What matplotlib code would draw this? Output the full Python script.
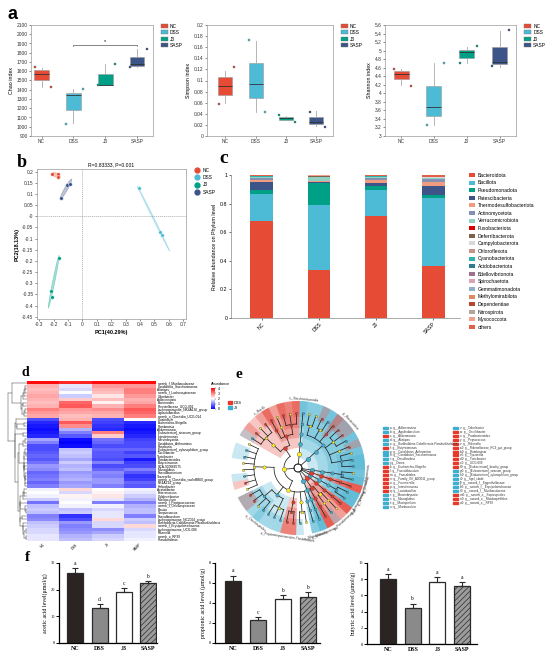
import numpy as np
import matplotlib
matplotlib.use("Agg")
import matplotlib.pyplot as plt
from matplotlib.patches import Patch, Ellipse, Wedge, Rectangle
from matplotlib.lines import Line2D
from matplotlib.colors import LinearSegmentedColormap

W, H = 550, 657
SANS = ["Liberation Sans", "DejaVu Sans"]
SERIF = ["Liberation Serif", "DejaVu Serif"]
plt.rcParams["font.family"] = SANS
plt.rcParams["hatch.linewidth"] = 0.5

groups = ["NC", "DSS", "J3", "SASP"]
group_colors = ["#E64B35", "#4DBBD5", "#00A087", "#3C5488"]

# ---- a: alpha diversity (box stats) ----
chao_q1 = [1510, 1185, 1450, 1655]
chao_med = [1575, 1340, 1455, 1680]
chao_q3 = [1615, 1370, 1565, 1750]
chao_lo = [1430, 1040, 1450, 1650]
chao_hi = [1640, 1405, 1680, 1840]
chao_pts = [[1650, 1435], [1035, 1410], [1450, 1680], [1645, 1840]]

simpson_q1 = [0.073, 0.068, 0.028, 0.021]
simpson_med = [0.090, 0.093, 0.032, 0.026]
simpson_q3 = [0.106, 0.132, 0.035, 0.034]
simpson_lo = [0.060, 0.044, 0.028, 0.018]
simpson_hi = [0.118, 0.172, 0.036, 0.045]
simpson_pts = [[0.057, 0.125], [0.173, 0.044], [0.037, 0.026], [0.044, 0.016]]

shannon_q1 = [4.33, 3.47, 4.83, 4.68]
shannon_med = [4.45, 3.69, 4.96, 4.74]
shannon_q3 = [4.52, 4.18, 5.01, 5.09]
shannon_lo = [4.19, 3.26, 4.72, 4.62]
shannon_hi = [4.57, 4.70, 5.08, 5.47]
shannon_pts = [[4.57, 4.18], [3.26, 4.70], [4.72, 5.10], [4.63, 5.48]]

# ---- b: PCoA ----
pc1 = {"NC": [-0.21, -0.17, -0.17], "DSS": [0.39, 0.535, 0.555],
       "J3": [-0.165, -0.22, -0.215], "SASP": [-0.15, -0.11, -0.085]}
pc2 = {"NC": [0.19, 0.19, 0.175], "DSS": [0.125, -0.07, -0.085],
       "J3": [-0.185, -0.335, -0.36], "SASP": [0.08, 0.14, 0.145]}

# ---- c: phylum composition ----
phyla = ["Bacteroidota", "Bacillota", "Pseudomonadota", "Patescibacteria",
         "Thermodesulfobacteriota", "Actinomycetota", "Verrucomicrobiota",
         "Fusobacteriota", "Deferribacterota", "Campylobacterota", "Chloroflexota",
         "Cyanobacteriota", "Acidobacteriota", "Bdellovibrionota", "Spirochaetota",
         "Gemmatimonadota", "Methylomirabilota", "Dependentiae", "Nitrospirota",
         "Myxococcota", "others"]
phyla_colors = ["#E64B35", "#4DBBD5", "#00A087", "#3C5488", "#F39B7F", "#8491B4",
                "#91D1C2", "#DC0000", "#7E6148", "#D9D9D9", "#C7948C", "#2FB3AE",
                "#2E7D8C", "#A0708F", "#D9A5B3", "#8FB2C9", "#E08A60", "#B5472E",
                "#B3A69A", "#F2A08E", "#E2604A"]
abund_nc = [0.678, 0.192, 0.027, 0.053, 0.012, 0.018, 0.004, 0.001, 0.002, 0.001,
            0.001, 0.001, 0.001, 0.0005, 0.0005, 0.0005, 0.0005, 0.0005, 0.0005,
            0.0005, 0.0055]
abund_dss = [0.337, 0.453, 0.155, 0.006, 0.004, 0.004, 0.028, 0.001, 0.003, 0.001,
             0.0005, 0.0005, 0.0005, 0.0005, 0.0005, 0.0005, 0.0005, 0.0005, 0.0005,
             0.0005, 0.003]
abund_j3 = [0.712, 0.183, 0.028, 0.018, 0.027, 0.012, 0.004, 0.001, 0.003, 0.001,
            0.0005, 0.0005, 0.0005, 0.0005, 0.0005, 0.0005, 0.0005, 0.0005, 0.0005,
            0.0005, 0.006]
abund_sasp = [0.365, 0.475, 0.022, 0.063, 0.027, 0.022, 0.005, 0.001, 0.002, 0.001,
              0.0005, 0.0005, 0.0005, 0.0005, 0.0005, 0.0005, 0.0005, 0.0005, 0.0005,
              0.0005, 0.012]

# ---- d: genus heatmap ----
genera = ["norank_f_Muribaculaceae", "Candidatus_Saccharimonas", "Alistipes",
          "norank_f_Lachnospiraceae", "Odoribacter", "Adlercreutzia", "Bacteroides",
          "Prevotellaceae_UCG-001", "Lachnospiraceae_NK4A136_group", "Ligilactobacillus",
          "norank_o_Clostridia_UCG-014", "Clostridium", "Escherichia-Shigella",
          "Romboutsia", "Akkermansia", "[Eubacterium]_siraeum_group", "Intestinimonas",
          "Marvinbryantia", "Candidatus_Arthromitus", "Roseburia",
          "[Eubacterium]_xylanophilum_group", "Oscillibacter", "Turicibacter",
          "Parabacteroides", "Butyricimonas", "GCA-900066575", "Monoglobus",
          "Faecalibacterium", "Tuzzerella", "norank_o_Clostridia_vadinBB60_group",
          "NK4A214_group", "Helicobacter", "Acetatifactor", "Enterococcus",
          "Colidextribacter", "Muribaculum", "norank_f_Peptococcaceae",
          "norank_f_Oscillospiraceae", "Blautia", "Streptococcus", "Faecalibaculum",
          "Lachnospiraceae_NC2004_group", "Burkholderia-Caballeronia-Paraburkholderia",
          "norank_f_Erysipelotrichaceae", "Lachnospiraceae_UCG-006", "Rikenella",
          "norank_o_RF39", "Pseudomonas"]
heat_nc = [3.9, 2.6, 2.5, 2.6, 2.7, 2.6, 2.5, 2.6, 3.0, 2.8, 2.7, 0.6, 0.3, 0.2, 0.1, 0.2,
           0.3, 1.3, 1.0, 0.6, 0.6, 0.7, 0.8, 0.7, 0.9, 1.2, 1.1, 0.8, 0.9, 1.0, 0.8, 1.0,
           1.9, 2.0, 1.9, 1.6, 0.9, 1.5, 1.6, 1.5, 1.0, 1.1, 1.5, 1.6, 1.7, 1.7, 1.8, 1.8]
heat_dss = [3.7, 1.8, 1.7, 2.0, 1.6, 2.4, 3.2, 3.3, 2.8, 2.7, 2.5, 2.6, 3.3, 2.9, 1.4, 1.0,
            0.7, 0.1, 0.0, 0.1, 1.5, 1.6, 1.5, 1.3, 1.6, 1.4, 1.5, 1.2, 1.3, 1.4, 1.2, 1.3,
            2.3, 1.7, 2.1, 1.9, 2.0, 1.9, 1.5, 1.6, 0.4, 0.6, 1.2, 1.0, 1.1, 1.2, 1.4, 1.5]
heat_j3 = [3.9, 2.8, 2.6, 2.5, 2.2, 2.5, 2.1, 2.6, 2.9, 2.7, 2.6, 0.6, 0.5, 0.4, 0.3, 3.0,
           2.4, 0.9, 0.8, 0.6, 0.8, 0.7, 0.7, 0.6, 1.0, 0.6, 0.8, 1.1, 1.0, 1.2, 1.2, 1.0,
           2.0, 2.1, 2.2, 1.8, 1.0, 1.9, 1.7, 1.8, 1.8, 2.3, 1.7, 1.7, 1.1, 1.3, 1.6, 1.7]
heat_sasp = [3.9, 2.8, 3.0, 3.0, 2.8, 2.6, 2.7, 3.0, 3.3, 3.2, 3.0, 2.0, 0.3, 0.2, 0.1, 0.2,
             0.3, 0.5, 0.6, 0.6, 0.8, 0.5, 0.7, 0.2, 0.5, 0.6, 1.0, 0.7, 0.4, 0.5, 0.8, 0.7,
             1.9, 1.8, 1.6, 1.4, 1.0, 1.4, 1.5, 1.5, 1.0, 1.6, 1.5, 2.3, 1.7, 1.8, 1.8, 1.9]

# ---- e: LEfSe cladogram (name, enriched group, children) ----
clade_tree = [
    ("p__Desulfobacterota", "J3", [("c__Desulfovibrionia", "J3", [("o__Desulfovibrionales", "J3", [
        ("f__Desulfovibrionaceae", "J3", [("g__Desulfovibrio", "J3"), ("g__Bilophila", None)])])])]),
    ("p__Bacteroidota", "J3", [("c__Bacteroidia", "J3", [("o__Bacteroidales", "J3", [
        ("f__Muribaculaceae", "J3", [("g__norank_f__Muribaculaceae", "J3"), ("g__Muribaculum", "J3"),
                                     ("g__Duncaniella", None)]),
        ("f__Bacteroidaceae", None, [("g__Bacteroides", "DSS")]),
        ("f__Rikenellaceae", None, [("g__Alistipes", "J3"), ("g__Rikenella", "DSS"),
                                    ("g__Rikenellaceae_RC9_gut_group", "DSS")]),
        ("f__Tannerellaceae", "DSS", [("g__Parabacteroides", "DSS")]),
        ("f__Marinifilaceae", None, [("g__Odoribacter", "J3"), ("g__Butyricimonas", "DSS")]),
        ("f__Prevotellaceae", None, [("g__Prevotellaceae_UCG-001", None), ("g__Alloprevotella", None)])])])]),
    ("p__Patescibacteria", None, [("c__Saccharimonadia", "J3", [("o__Saccharimonadales", "J3", [
        ("f__Saccharimonadaceae", "J3", [("g__Candidatus_Saccharimonas", "J3")])])])]),
    ("p__Bacillota", None, [
        ("c__Bacilli", "DSS", [
            ("o__Lactobacillales", "DSS", [
                ("f__Lactobacillaceae", "DSS", [("g__Lactobacillus", "DSS"), ("g__Ligilactobacillus", None),
                                                ("g__Limosilactobacillus", "DSS")]),
                ("f__Streptococcaceae", None, [("g__Streptococcus", None)]),
                ("f__Enterococcaceae", "DSS", [("g__Enterococcus", "DSS")])]),
            ("o__Erysipelotrichales", None, [
                ("f__Erysipelotrichaceae", None, [("g__Faecalibaculum", "DSS"), ("g__Dubosiella", None),
                                                  ("g__Turicibacter", "DSS"),
                                                  ("g__norank_f__Erysipelotrichaceae", "J3")])])]),
        ("c__Clostridia", None, [
            ("o__Lachnospirales", None, [
                ("f__Lachnospiraceae", None, [("g__Lachnospiraceae_NK4A136_group", None), ("g__Dorea", "J3"),
                                              ("g__Marvinbryantia", "J3"), ("g__Blautia", None),
                                              ("g__Roseburia", None),
                                              ("g__[Eubacterium]_xylanophilum_group", "J3"),
                                              ("g__Tyzzerella", "DSS"), ("g__Lachnoclostridium", None)])]),
            ("o__Oscillospirales", "J3", [
                ("f__Oscillospiraceae", "J3", [("g__Oscillibacter", "DSS"), ("g__Intestinimonas", "DSS"),
                                               ("g__Colidextribacter", None),
                                               ("g__norank_f__Oscillospiraceae", "J3")]),
                ("f__Ruminococcaceae", None, [("g__Agathobaculum", "J3"), ("g__Fournierella", "J3"),
                                              ("g__[Eubacterium]_siraeum_group", "J3")])]),
            ("o__Peptostreptococcales-Tissierellales", "DSS", [
                ("f__Peptostreptococcaceae", "DSS", [("g__Romboutsia", "DSS"),
                                                     ("g__Family_XIII_AD3011_group", "DSS")])]),
            ("o__Clostridiales", None, [
                ("f__Clostridiaceae", None, [("g__Candidatus_Arthromitus", "J3"),
                                             ("g__Clostridium_sensu_stricto_1", None)])]),
            ("o__Monoglobales", "J3", [("f__Monoglobaceae", "J3", [("g__Monoglobus", "J3")])])])]),
    ("p__Deferribacterota", "J3", [("c__Deferribacteres", "J3", [("o__Deferribacterales", "J3", [
        ("f__Deferribacteraceae", "J3", [("g__Mucispirillum", "J3")])])])]),
    ("p__Pseudomonadota", "DSS", [
        ("c__Gammaproteobacteria", "DSS", [
            ("o__Enterobacterales", "DSS", [("f__Enterobacteriaceae", "DSS", [("g__Escherichia-Shigella", "DSS")])]),
            ("o__Burkholderiales", None, [
                ("f__Burkholderiaceae", None, [("g__Burkholderia-Caballeronia-Paraburkholderia", "J3")]),
                ("f__Sutterellaceae", None, [("g__Parasutterella", None)])])]),
        ("c__Alphaproteobacteria", "DSS", [("o__Rhodospirillales", "DSS", [
            ("f__norank_o__Rhodospirillales", "DSS", [("g__norank_o__Rhodospirillales", "DSS")])])])]),
    ("p__Actinomycetota", "J3", [("c__Coriobacteriia", "J3", [("o__Coriobacteriales", "J3", [
        ("f__Eggerthellaceae", "J3", [("g__Adlercreutzia", "J3"), ("g__norank_f__Eggerthellaceae", "J3")])])])]),
    ("p__Verrucomicrobiota", "DSS", [("c__Verrucomicrobiae", "DSS", [("o__Verrucomicrobiales", "DSS", [
        ("f__Akkermansiaceae", "DSS", [("g__Akkermansia", "DSS")])])])]),
]
lefse_names = ["a: g__Adlercreutzia", "b: g__Agathobaculum", "c: g__Akkermansia", "d: g__Alistipes",
               "e: g__Burkholderia-Caballeronia-Paraburkholderia", "f: g__Butyricimonas",
               "g: g__Candidatus_Arthromitus", "h: g__Candidatus_Saccharimonas", "i: g__Desulfovibrio",
               "j: g__Dorea", "k: g__Escherichia-Shigella", "l: g__Faecalibaculum",
               "m: g__Faecalitalea", "n: g__Family_XIII_AD3011_group", "o: g__Fournierella",
               "p: g__Intestinimonas", "q: g__Lactobacillus", "r: g__Marvinbryantia",
               "s: g__Monoglobus", "t: g__Mucispirillum", "u: g__Muribaculum",
               "v: g__Odoribacter", "w: g__Oscillibacter", "x: g__Parabacteroides",
               "y: g__Peptococcus", "z: g__Rikenella", "a0: g__Rikenellaceae_RC9_gut_group",
               "b0: g__Romboutsia", "c0: g__Tyzzerella", "d0: g__Turicibacter", "e0: g__UCG-009",
               "f0: g__[Eubacterium]_brachy_group", "g0: g__[Eubacterium]_siraeum_group",
               "h0: g__[Eubacterium]_xylanophilum_group", "i0: g__hgcI_clade",
               "j0: g__norank_f__Eggerthellaceae", "k0: g__norank_f__Erysipelotrichaceae",
               "l0: g__norank_f__Muribaculaceae", "m0: g__norank_o__Saprospirales",
               "n0: g__norank_o__Rhodospirillales", "o0: g__norank_o__RF39"]
lefse_groups = ["J3", "J3", "DSS", "J3", "J3", "DSS", "J3", "J3", "J3", "J3", "DSS", "DSS", "DSS",
                "DSS", "DSS", "DSS", "DSS", "J3", "J3", "J3", "J3",
                "J3", "DSS", "DSS", "DSS", "DSS", "DSS", "DSS", "DSS", "DSS", "DSS", "DSS",
                "J3", "J3", "J3", "J3", "J3", "J3", "DSS", "DSS", "DSS"]
lefse_colors = {"DSS": "#E5392C", "J3": "#3FAFD0"}

# ---- f: short chain fatty acids ----
acetic_mean = [26.3, 13.3, 19.3, 22.6]
acetic_err = [2.0, 1.3, 1.5, 0.8]
acetic_sig = ["a", "d", "c", "b"]
propionic_mean = [6.2, 2.35, 4.45, 4.6]
propionic_err = [0.55, 0.3, 0.4, 0.5]
propionic_sig = ["a", "c", "b", "b"]
butyric_mean = [8.0, 4.4, 7.7, 7.1]
butyric_err = [0.7, 0.6, 0.55, 0.5]
butyric_sig = ["a", "b", "a", "a"]


def px(l, t, r, b):
    return [l / W, 1 - b / H, (r - l) / W, (b - t) / H]


def thin_frame(ax):
    for sp in ax.spines.values():
        sp.set_color("#9a9a9a")
        sp.set_linewidth(0.5)
    ax.tick_params(labelsize=3.5, length=1.5, width=0.4, pad=1, colors="#333333")


def alpha_box(ax, q1, med, q3, lo, hi, pts, ylim, step, ylabel, fmt, xlim):
    stats = [dict(q1=q1[i], med=med[i], q3=q3[i], whislo=lo[i], whishi=hi[i]) for i in range(4)]
    art = ax.bxp(stats, positions=range(4), widths=0.46, patch_artist=True, showfliers=False,
                 showcaps=False, medianprops=dict(color="#333333", lw=0.6),
                 whiskerprops=dict(color="#aaaaaa", lw=0.6),
                 boxprops=dict(edgecolor="#999999", lw=0.4))
    for patch, c in zip(art["boxes"], group_colors):
        patch.set_facecolor(c)
    for i, vals in enumerate(pts):
        ax.scatter([i - 0.22, i + 0.3], vals, s=2.5, marker="s", color=group_colors[i],
                   edgecolor="#555555", linewidth=0.2, zorder=4)
    ax.set_xlim(*xlim)
    ax.set_ylim(*ylim)
    ax.set_yticks(np.arange(ylim[0], ylim[1] + step / 2, step))
    ax.set_yticklabels([fmt(v) for v in np.arange(ylim[0], ylim[1] + step / 2, step)])
    ax.set_xticks(range(4))
    ax.set_xticklabels(groups)
    ax.set_ylabel(ylabel, fontsize=3.8, labelpad=2)
    thin_frame(ax)
    hd = [Patch(facecolor=c, edgecolor="#777777", lw=0.3, label=g) for g, c in zip(groups, group_colors)]
    ax.legend(handles=hd, loc="upper left", bbox_to_anchor=(1.05, 1.03), fontsize=3.5, frameon=False,
              handlelength=1.4, handleheight=0.9, labelspacing=0.3, handletextpad=0.4, borderaxespad=0)


def chain_linkage(mat):
    # merge neighbouring rows only, so the leaf order stays as in the heatmap
    nodes = [(i + 0.5, 0.0, mat[i].astype(float), 1) for i in range(len(mat))]
    segs = []
    while len(nodes) > 1:
        d = [np.linalg.norm(nodes[k][2] - nodes[k + 1][2]) for k in range(len(nodes) - 1)]
        k = int(np.argmin(d))
        (pa, ha, ca, na), (pb, hb, cb, nb) = nodes[k], nodes[k + 1]
        h = max(d[k], ha, hb)
        segs += [((ha, h), (pa, pa)), ((hb, h), (pb, pb)), ((h, h), (pa, pb))]
        nodes[k:k + 2] = [((pa + pb) / 2, h, (ca * na + cb * nb) / (na + nb), na + nb)]
    return segs


def count_leaves(node):
    if len(node) == 2:
        return 1
    return sum(count_leaves(k) for k in node[2])


def place(node, level, state, out, parent_grp):
    if len(node) == 2:
        ang = state["start"] + state["i"] * state["step"]
        state["i"] += 1
        info = dict(name=node[0], grp=node[1], level=level, ang=ang, lo=ang, hi=ang, kids=[],
                    top=node[1] is not None and parent_grp is None)
    else:
        kids = [place(k, level + 1, state, out, node[1]) for k in node[2]]
        info = dict(name=node[0], grp=node[1], level=level,
                    ang=np.mean([k["ang"] for k in kids]),
                    lo=min(k["lo"] for k in kids), hi=max(k["hi"] for k in kids),
                    kids=kids, top=node[1] is not None and parent_grp is None)
    out.append(info)
    return info


def draw_scfa(ax, mean, err, sig, ymax, step, ylabel, xlim):
    x = np.arange(4)
    bars = ax.bar(x, mean, width=0.66, color=["#2b2422", "#8a8a8a", "white", "#9c9c9c"],
                  edgecolor="#2b2b2b", linewidth=0.9, zorder=2)
    bars[3].set_hatch("//////")
    ax.errorbar(x, mean, yerr=[np.zeros(4), err], fmt="none", ecolor="#2b2b2b", elinewidth=0.8,
                capsize=2.2, capthick=0.8, zorder=3)
    for xi, m, e, s in zip(x, mean, err, sig):
        ax.text(xi, m + e + ymax * 0.025, s, ha="center", va="bottom", fontsize=4, family=SERIF)
    ax.set_ylim(0, ymax)
    ax.set_xlim(*xlim)
    ax.set_yticks(np.arange(0, ymax + step / 2, step))
    ax.set_xticks(x)
    ax.set_xticklabels(groups, fontsize=4.3, fontweight="bold", family=SERIF)
    for lab in ax.get_yticklabels():
        lab.set_family(SERIF)
    ax.tick_params(axis="y", labelsize=3.2, length=2, width=0.7, pad=1)
    ax.tick_params(axis="x", length=0, pad=2)
    for sp in ["top", "right"]:
        ax.spines[sp].set_visible(False)
    for sp in ["left", "bottom"]:
        ax.spines[sp].set_linewidth(0.9)
    ax.set_ylabel(ylabel, fontsize=4.2, family=SERIF, labelpad=2)


def main():
    fig = plt.figure(figsize=(W / 100, H / 100), dpi=100)

    # ---------------- a ----------------
    ax = fig.add_axes(px(31, 25, 153, 136))
    alpha_box(ax, chao_q1, chao_med, chao_q3, chao_lo, chao_hi, chao_pts, (900, 2100), 100,
              "Chao index", lambda v: f"{v:.0f}", (-0.33, 3.5))
    ax.plot([1, 1, 3, 3], [1870, 1885, 1885, 1870], color="#555555", lw=0.5)
    ax.text(2, 1890, "*", ha="center", va="bottom", fontsize=4)
    ax = fig.add_axes(px(207, 25, 333, 136))
    alpha_box(ax, simpson_q1, simpson_med, simpson_q3, simpson_lo, simpson_hi, simpson_pts,
              (0, 0.2), 0.02, "Simpson index", lambda v: f"{v:g}" if v else "0", (-0.6, 3.55))
    ax = fig.add_axes(px(385, 25, 516, 136))
    alpha_box(ax, shannon_q1, shannon_med, shannon_q3, shannon_lo, shannon_hi, shannon_pts,
              (3, 5.6), 0.2, "Shannon index", lambda v: f"{round(v, 1):g}", (-0.49, 3.5))
    fig.text(7 / W, 1 - 19 / H, "a", fontsize=13, fontweight="bold")

    # ---------------- b ----------------
    ax = fig.add_axes(px(37, 169, 186, 319))
    for g, c in zip(groups, group_colors):
        xs, ys = np.array(pc1[g]), np.array(pc2[g])
        cov = np.cov(xs, ys)
        vals, vecs = np.linalg.eigh(cov)
        ang = np.degrees(np.arctan2(vecs[1, 1], vecs[0, 1]))
        wd, ht = 2 * 1.25 * np.sqrt(np.maximum(vals[::-1], 1e-6))
        ax.add_patch(Ellipse((xs.mean(), ys.mean()), wd, ht, angle=ang, facecolor=c, alpha=0.35,
                             edgecolor=c, lw=0.5, zorder=1))
        ax.scatter(xs, ys, s=7, color=c, edgecolor="white", linewidth=0.3, zorder=3)
    ax.axhline(0, color="#888888", lw=0.4, ls=(0, (2, 1.5)))
    ax.axvline(0, color="#888888", lw=0.4, ls=(0, (2, 1.5)))
    ax.set_xlim(-0.316, 0.719)
    ax.set_ylim(-0.46, 0.212)
    ax.set_xticks(np.arange(-0.3, 0.71, 0.1))
    ax.set_xticklabels([f"{round(v, 1):g}" for v in np.arange(-0.3, 0.71, 0.1)])
    ax.set_yticks(np.arange(-0.45, 0.21, 0.05))
    ax.set_yticklabels([f"{round(v, 2):g}" for v in np.arange(-0.45, 0.21, 0.05)])
    thin_frame(ax)
    ax.set_title("R=0.83333, P=0.001", fontsize=3.6, pad=2)
    ax.set_xlabel("PC1(40.29%)", fontsize=4, fontweight="bold", labelpad=2)
    ax.set_ylabel("PC2(18.13%)", fontsize=4, fontweight="bold", labelpad=2)
    hd = [Line2D([], [], marker="o", ls="none", color=c, markersize=3.5, label=g)
          for g, c in zip(groups, group_colors)]
    ax.legend(handles=hd, loc="upper left", bbox_to_anchor=(1.03, 1.02), fontsize=3.5, frameon=False,
              handletextpad=0.2, labelspacing=0.45, borderaxespad=0)
    fig.text(17 / W, 1 - 167 / H, "b", fontsize=13, fontweight="bold", family=SERIF)

    # ---------------- c ----------------
    ax = fig.add_axes(px(231, 175, 460, 318))
    abund = np.array([abund_nc, abund_dss, abund_j3, abund_sasp])
    bottom = np.zeros(4)
    for j, (name, c) in enumerate(zip(phyla, phyla_colors)):
        ax.bar(range(4), abund[:, j], bottom=bottom, width=0.4, color=c, label=name)
        bottom += abund[:, j]
    ax.set_xlim(-0.54, 3.47)
    ax.set_ylim(0, 1.0)
    ax.set_yticks(np.arange(0, 1.01, 0.2))
    ax.set_yticklabels(["0", "0.2", "0.4", "0.6", "0.8", "1"])
    ax.set_xticks(range(4))
    ax.set_xticklabels(groups, rotation=45, ha="right", rotation_mode="anchor")
    for sp in ["top", "right"]:
        ax.spines[sp].set_visible(False)
    for sp in ["left", "bottom"]:
        ax.spines[sp].set_color("#888888")
        ax.spines[sp].set_linewidth(0.5)
    ax.tick_params(labelsize=3.8, length=1.5, width=0.4, pad=1)
    ax.set_ylabel("Relative abundance on Phylum level", fontsize=3.8, labelpad=2)
    ax.legend(loc="upper left", bbox_to_anchor=(1.03, 1.03), fontsize=3.6, frameon=False,
              handlelength=1.3, handleheight=0.9, labelspacing=0.52, handletextpad=0.5, borderaxespad=0)
    fig.text(219 / W, 1 - 163 / H, "c", fontsize=14, fontweight="bold", family=SERIF)

    # ---------------- d ----------------
    mat = np.array([heat_nc, heat_dss, heat_j3, heat_sasp]).T
    cmap = LinearSegmentedColormap.from_list("bwr_hm", ["#0000ff", "#ffffff", "#ff0000"])
    ax = fig.add_axes(px(27, 381, 156, 541))
    mesh = ax.pcolormesh(mat, cmap=cmap, vmin=0, vmax=4, edgecolors="face", linewidth=0)
    ax.set_ylim(len(genera), 0)
    ax.set_xlim(0, 4)
    ax.yaxis.tick_right()
    ax.set_yticks(np.arange(len(genera)) + 0.5)
    ax.set_yticklabels(genera, fontsize=2.3)
    ax.set_xticks(np.arange(4) + 0.5)
    ax.set_xticklabels(groups, fontsize=2.6, rotation=45, ha="right", rotation_mode="anchor")
    ax.tick_params(length=0, pad=1)
    for sp in ax.spines.values():
        sp.set_visible(False)
    dax = fig.add_axes(px(7, 381, 27, 541))
    segs = chain_linkage(mat)
    for xs, ys in segs:
        dax.plot(xs, ys, color="#444444", lw=0.35)
    dax.set_xlim(max(s[0][1] for s in segs) * 1.04, 0)
    dax.set_ylim(len(genera), 0)
    dax.axis("off")
    cax = fig.add_axes(px(211, 388, 215, 409))
    cb = fig.colorbar(mesh, cax=cax, ticks=[0, 1, 2, 3, 4])
    cb.outline.set_visible(False)
    cb.ax.tick_params(labelsize=2.5, length=1, width=0.3, pad=1)
    cax.set_title("Abundance", fontsize=2.7, pad=2, loc="left")
    fig.text(22 / W, 1 - 376 / H, "d", fontsize=10, fontweight="bold", family=SERIF)

    # ---------------- e ----------------
    ax = fig.add_axes(px(218, 388, 378, 548))
    ax.set_xlim(-80, 80)
    ax.set_ylim(-80, 80)
    ax.set_aspect("equal")
    ax.axis("off")
    radii = [4, 14, 24, 34, 44, 55]
    r_out = 67
    n_leaf = sum(count_leaves(p) for p in clade_tree)
    state = dict(start=-12.0, step=360.0 / n_leaf, i=0)
    nodes = []
    root_kids = [place(p, 1, state, nodes, None) for p in clade_tree]
    half = state["step"] / 2
    for nd in sorted(nodes, key=lambda n: n["level"]):
        if nd["grp"] is None:
            continue
        col = lefse_colors[nd["grp"]]
        ax.add_patch(Wedge((0, 0), r_out, nd["lo"] - half, nd["hi"] + half,
                           width=r_out - radii[nd["level"]] + 4, facecolor=col, alpha=0.28,
                           edgecolor="none", zorder=1))
        if nd["top"] and nd["level"] <= 3:
            a = nd["ang"] % 360
            rot = a - 90 if a < 180 else a + 90
            rr = r_out + 3
            ax.text(rr * np.cos(np.radians(a)), rr * np.sin(np.radians(a)), nd["name"],
                    fontsize=2.3, rotation=rot, ha="center", va="center", color="#333333")

    def branch(r_par, kids):
        angs = [k["ang"] for k in kids]
        t = np.radians(np.linspace(min(angs), max(angs), 40))
        ax.plot(r_par * np.cos(t), r_par * np.sin(t), color="#222222", lw=0.55, zorder=2)
        for k in kids:
            t0 = np.radians(k["ang"])
            ax.plot([r_par * np.cos(t0), radii[k["level"]] * np.cos(t0)],
                    [r_par * np.sin(t0), radii[k["level"]] * np.sin(t0)],
                    color="#222222", lw=0.55, zorder=2)

    t = np.radians(np.linspace(0, 360, 80))
    ax.plot(radii[0] * np.cos(t), radii[0] * np.sin(t), color="#222222", lw=0.55, zorder=2)
    branch(radii[0], root_kids)
    for nd in nodes:
        if nd["kids"]:
            branch(radii[nd["level"]], nd["kids"])
    msize = {1: 3.2, 2: 2.8, 3: 2.4, 4: 2.0, 5: 1.6}
    for nd in nodes:
        t0 = np.radians(nd["ang"])
        r = radii[nd["level"]]
        fc = "#FFEE22" if nd["grp"] is None else lefse_colors[nd["grp"]]
        ax.plot(r * np.cos(t0), r * np.sin(t0), "o", markersize=msize[nd["level"]], color=fc,
                markeredgecolor="#444444", markeredgewidth=0.25, zorder=3)
    ax.legend(handles=[Patch(color=lefse_colors[g], label=g) for g in ["DSS", "J3"]],
              loc="upper left", bbox_to_anchor=(0.05, 0.93), fontsize=2.8, frameon=False,
              handlelength=1.2, handleheight=0.8, labelspacing=0.3, handletextpad=0.4, borderaxespad=0)
    for i, (name, g) in enumerate(zip(lefse_names, lefse_groups)):
        col_x = 383 if i < 21 else 453
        row_y = 427.7 + 3.97 * (i if i < 21 else i - 21)
        fig.add_artist(Rectangle(((col_x) / W, 1 - (row_y + 1) / H), 4.5 / W, 2 / H,
                                 transform=fig.transFigure, color=lefse_colors[g]))
        fig.text((col_x + 6.5) / W, 1 - row_y / H, name, fontsize=2.15, va="center", color="#333333")
    fig.text(235 / W, 1 - 378 / H, "e", fontsize=11, fontweight="bold", family=SERIF)

    # ---------------- f ----------------
    ax = fig.add_axes(px(59, 563, 157, 643))
    draw_scfa(ax, acetic_mean, acetic_err, acetic_sig, 30, 10, "acetic acid level(μmol/g)", (-0.67, 3.37))
    ax = fig.add_axes(px(215, 563, 320, 643))
    draw_scfa(ax, propionic_mean, propionic_err, propionic_sig, 8, 2, "propionic acid level (μmol/g)",
              (-0.72, 3.48))
    ax = fig.add_axes(px(367, 563, 477, 644))
    draw_scfa(ax, butyric_mean, butyric_err, butyric_sig, 10, 2, "butyric acid level (μmol/g)",
              (-0.87, 3.62))
    fig.text(25 / W, 1 - 561 / H, "f", fontsize=11, fontweight="bold", family=SERIF)

    fig.savefig("out.png", dpi=100)


if __name__ == "__main__":
    main()
